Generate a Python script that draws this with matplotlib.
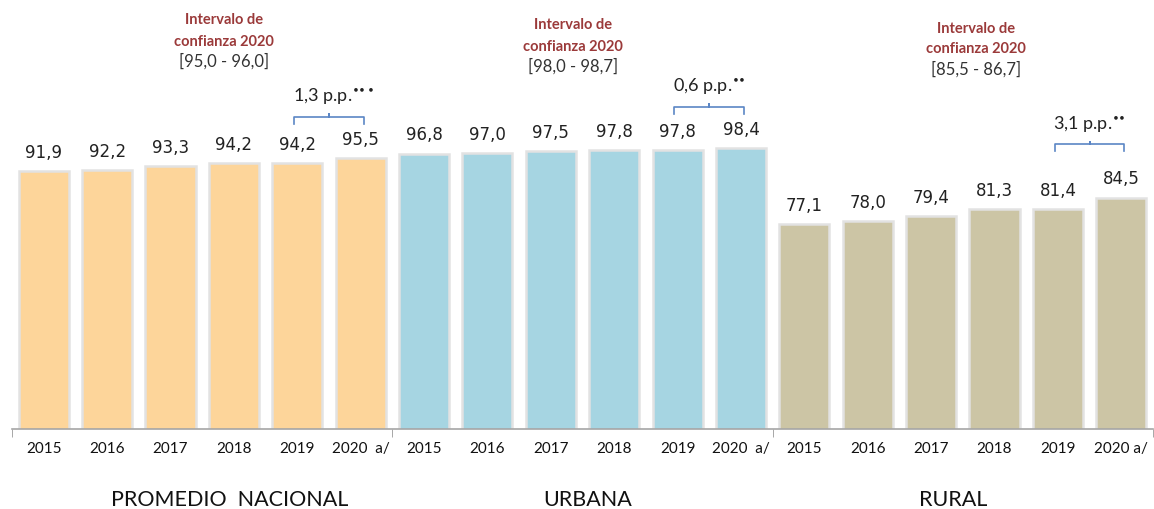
import numpy as np
import matplotlib
matplotlib.use("Agg")
import matplotlib.pyplot as plt

years = ["2015", "2016", "2017", "2018", "2019", "2020  a/"]
years_rural = ["2015", "2016", "2017", "2018", "2019", "2020 a/"]
groups = ["PROMEDIO  NACIONAL", "URBANA", "RURAL"]
nacional = [91.9, 92.2, 93.3, 94.2, 94.2, 95.5]
urbana = [96.8, 97.0, 97.5, 97.8, 97.8, 98.4]
rural = [77.1, 78.0, 79.4, 81.3, 81.4, 84.5]
intervalos = ["[95,0 - 96,0]", "[98,0 - 98,7]", "[85,5 - 86,7]"]
diferencias = ["1,3 p.p.", "0,6 p.p.", "3,1 p.p."]
signif = [3, 2, 2]

colors = ["#FDD59A", "#A6D5E2", "#CCC5A5"]

fig = plt.figure(figsize=(11.54, 5.10), dpi=100)
ax = fig.add_axes([12/1154, 80/510, 1141/1154, 430/510])
ax.set_xlim(-0.5, 17.5)
ax.set_ylim(20, 140)

series = [nacional, urbana, rural]
labels = years + years + years_rural
for g, vals in enumerate(series):
    x = np.arange(6) + 6*g
    ax.bar(x, vals, width=0.79, color=colors[g], edgecolor="#e2e2e2", linewidth=1.8, zorder=2)
    for xi, v in zip(x, vals):
        ax.annotate(f"{v:.1f}".replace(".", ","), (xi, v), xytext=(0, 14),
                    textcoords="offset points", ha="center", va="center",
                    fontsize=12, color="#222222", family="DejaVu Sans")

ax.set_xticks(np.arange(18))
ax.set_xticklabels(labels, fontsize=11, family="Lato", color="#111111")
ax.tick_params(axis="x", which="major", length=0, pad=9)
ax.set_xticks([-0.5, 5.5, 11.5, 17.5], minor=True)
ax.tick_params(axis="x", which="minor", length=6, color="#999999", direction="out")
ax.set_yticks([])
for s in ["top", "left", "right"]:
    ax.spines[s].set_visible(False)
ax.spines["bottom"].set_color("#a6a6a6")
ax.spines["bottom"].set_linewidth(1.2)

# group titles
title_x = [2.93, 8.58, 14.35]
for tx, name in zip(title_x, groups):
    ax.text(tx, -0.163, name, transform=ax.get_xaxis_transform(), ha="center",
            va="center", fontsize=15.5, family="Lato", color="#111111")

# confidence interval notes
ci_x = [2.85, 8.35, 14.71]
ci_y = [(134.5, 128.4, 122.8), (133.1, 127.0, 121.4), (132.0, 126.4, 120.6)]
for cx, (y1, y2, y3), ci in zip(ci_x, ci_y, intervalos):
    ax.text(cx, y1, "Intervalo de", ha="center", va="center", fontsize=10.5,
            family="Lato", fontweight="bold", color="#9B3A3A")
    ax.text(cx, y2, "confianza 2020", ha="center", va="center", fontsize=10.5,
            family="Lato", fontweight="bold", color="#9B3A3A")
    ax.text(cx, y3, ci, ha="center", va="center", fontsize=12,
            family="Lato", color="#333333")

# brackets between 2019 and 2020
br_y = [107.2, 110.0, 99.6]
lab_y = [113.0, 115.8, 105.2]
for g in range(3):
    x0, x1 = 6*g + 4 - 0.05, 6*g + 5 + 0.05
    xm = (x0 + x1) / 2
    yb = br_y[g]
    ax.plot([x0, x0, xm, xm, xm, x1, x1], [yb - 2, yb, yb, yb + 0.6, yb, yb, yb - 2],
            color="#5B86C5", lw=1.2, zorder=3)
    dots = r"\!\!".join([r"\bullet"] * signif[g])
    ax.text(x0 - 0.02, lab_y[g], diferencias[g] + r"$^{" + dots + "}$",
            ha="left", va="center", fontsize=13, family="Lato", color="#222222")

fig.savefig("out.png", dpi=100)
